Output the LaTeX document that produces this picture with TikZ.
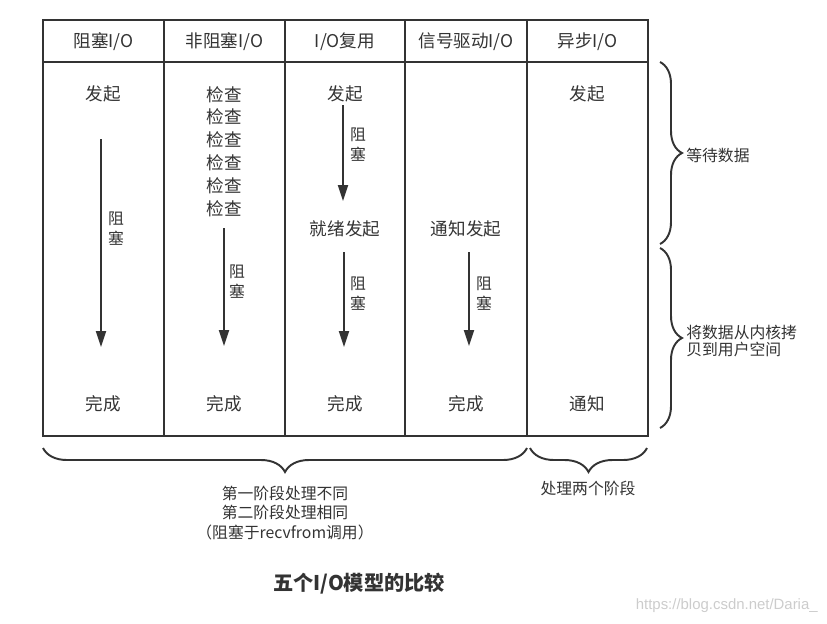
\documentclass[tikz,border=0pt]{standalone}
\usepackage{fontspec}
\setmainfont{Noto Sans CJK SC}
\newfontfamily\wmfont{Liberation Sans}
\usetikzlibrary{arrows.meta,decorations.pathreplacing}
\definecolor{ink}{HTML}{333333}
\tikzset{
  cell/.style={font=\fontsize{10}{12}\selectfont,text=ink,inner sep=0pt,align=center},
  stack/.style={cell,font=\fontsize{10}{13}\selectfont},
  blklabel/.style={cell,font=\fontsize{9}{11.3}\selectfont},
  note/.style={cell,font=\fontsize{9}{11.3}\selectfont},
  sidenote/.style={cell,anchor=west,align=left,font=\fontsize{9}{10.2}\selectfont},
  frame/.style={line width=1.1pt,draw=ink},
  block/.style={-{Triangle[length=0.32cm,width=0.2cm]},line width=1.1pt,draw=ink},
  phase/.style={decorate,decoration={brace,amplitude=#1},line width=1.1pt,draw=ink},
}

\begin{document}
\begin{tikzpicture}[x=0.02cm,y=-0.02cm]
  \useasboundingbox (0,0) rectangle (827,623);

  % table frame
  \draw[frame] (43,20) rectangle (648,436);
  \draw[frame] (43,62) -- (648,62);
  \foreach \x in {164,285,405,527} \draw[frame] (\x,20) -- (\x,436);

  % header row
  \node[cell] (h1) at (103.5,42) {阻塞I/O};
  \node[cell] (h2) at (224.5,42) {非阻塞I/O};
  \node[cell] (h3) at (345,42)   {I/O复用};
  \node[cell] (h4) at (466,42)   {信号驱动I/O};
  \node[cell] (h5) at (587.5,42) {异步I/O};

  % blocking I/O
  \node[cell] (c1go)   at (103.5,94)  {发起};
  \node[cell] (c1done) at (103.5,404) {完成};
  \coordinate (c1s) at (101,139);
  \coordinate (c1e) at (101,347);
  \draw[block] (c1s) -- (c1e);
  \node[blklabel] (c1blk) at (116,229) {阻\\塞};

  % non-blocking I/O
  \node[stack] (c2chk) at (224.5,151.5) {检查\\检查\\检查\\检查\\检查\\检查};
  \node[cell] (c2done) at (224.5,404) {完成};
  \coordinate (c2s) at (224,228);
  \coordinate (c2e) at (224,346);
  \draw[block] (c2s) -- (c2e);
  \node[blklabel] (c2blk) at (237,282) {阻\\塞};

  % I/O multiplexing
  \node[cell] (c3go)    at (345,94)  {发起};
  \node[cell] (c3ready) at (345,229) {就绪发起};
  \node[cell] (c3done)  at (345,404) {完成};
  \coordinate (c3s) at (343,105);
  \coordinate (c3e) at (343,201);
  \draw[block] (c3s) -- (c3e);
  \node[blklabel] (c3blk) at (358,145) {阻\\塞};
  \coordinate (c3t) at (344,252);
  \coordinate (c3u) at (344,347);
  \draw[block] (c3t) -- (c3u);
  \node[blklabel] (c3blkb) at (358,294) {阻\\塞};

  % signal driven I/O
  \node[cell] (c4sig)  at (466,229) {通知发起};
  \node[cell] (c4done) at (466,404) {完成};
  \coordinate (c4s) at (469,252);
  \coordinate (c4e) at (469,346);
  \draw[block] (c4s) -- (c4e);
  \node[blklabel] (c4blk) at (484,294) {阻\\塞};

  % asynchronous I/O
  \node[cell] (c5go)   at (587.5,94)  {发起};
  \node[cell] (c5done) at (587.5,404) {通知};

  % phases on the right
  \coordinate (w1) at (660,62);
  \coordinate (w2) at (660,244);
  \coordinate (k1) at (660,248);
  \coordinate (k2) at (660,428);
  \draw[phase=0.44cm] (w1) -- (w2);
  \draw[phase=0.44cm] (k1) -- (k2);
  \node[sidenote] (wait) at (686,155) {等待数据};
  \node[sidenote] (copy) at (686,341) {将数据从内核拷\\贝到用户空间};

  % phases below
  \coordinate (b1l) at (43,448);
  \coordinate (b1r) at (527,448);
  \coordinate (b2l) at (530,448);
  \coordinate (b2r) at (647,448);
  \draw[phase=0.48cm] (b1r) -- (b1l);
  \draw[phase=0.48cm] (b2r) -- (b2l);
  \node[note] (sync)  at (285,513) {第一阶段处理不同\\第二阶段处理相同\\（阻塞于recvfrom调用）};
  \node[note] (async) at (588,488) {处理两个阶段};

  % caption
  \node[cell,font=\fontsize{11.5}{13}\selectfont\bfseries] (title) at (359,584) {五个I/O模型的比较};
  \node[inner sep=0pt,anchor=east,text=gray!40,font=\wmfont\fontsize{8.5}{10}\selectfont] (wm) at (818,606) {https://blog.csdn.net/Daria\_};
\end{tikzpicture}
\end{document}
